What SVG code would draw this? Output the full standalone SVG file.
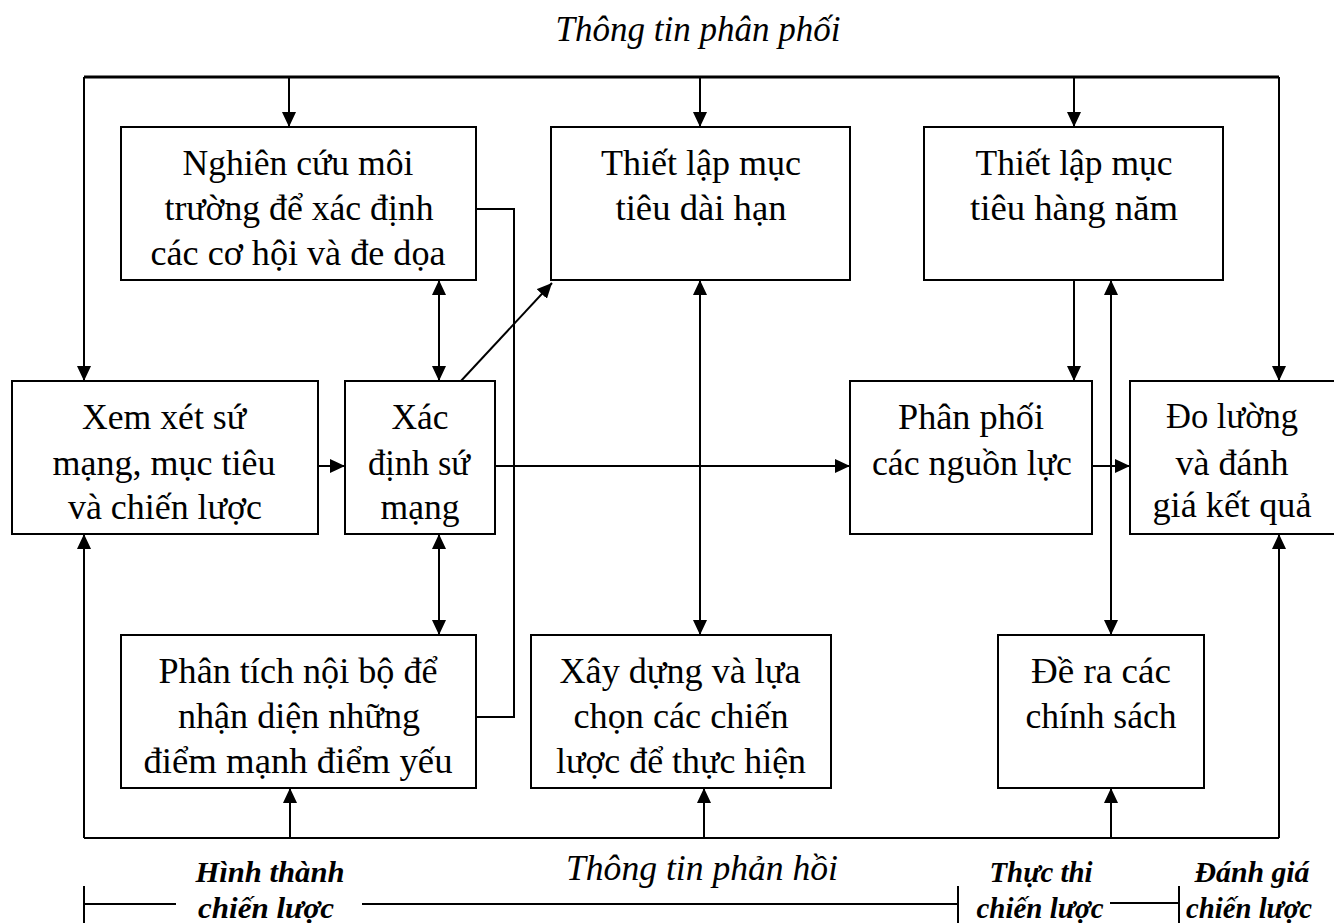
<svg xmlns="http://www.w3.org/2000/svg" width="1334" height="923" viewBox="0 0 1334 923">
<style>
.box{fill:#fff;stroke:#000;stroke-width:2}
.t{font-family:"Liberation Serif","Times New Roman",serif;font-size:35px;fill:#000;text-anchor:middle}
.it{font-family:"Liberation Serif","Times New Roman",serif;font-size:36px;font-style:italic;fill:#000;text-anchor:middle}
.bi{font-family:"Liberation Serif","Times New Roman",serif;font-size:30px;font-style:italic;font-weight:bold;fill:#000;text-anchor:middle}
.ln{fill:none;stroke:#000;stroke-width:2}
.a{marker-end:url(#ah)}
.ab{marker-start:url(#ah);marker-end:url(#ah)}
</style>
<defs>
<marker id="ah" viewBox="0 0 15 14" refX="15" refY="7" markerWidth="15" markerHeight="14" markerUnits="userSpaceOnUse" orient="auto-start-reverse">
<path d="M0,0 L15,7 L0,14 z" fill="#000"/>
</marker>
</defs>
<rect width="1334" height="923" fill="#fff"/>

<g id="connectors">
<path class="ln" style="stroke-width:3" d="M84,77 H1279"/>
<path class="ln a" d="M84,77 V381"/>
<path class="ln a" d="M289,77 V127"/>
<path class="ln a" d="M700,77 V127"/>
<path class="ln a" d="M1074,77 V127"/>
<path class="ln a" d="M1279,77 V381"/>
<path class="ln" d="M84,838 H1279"/>
<path class="ln a" d="M84,838 V534"/>
<path class="ln a" d="M290,838 V788"/>
<path class="ln a" d="M704,838 V788"/>
<path class="ln a" d="M1111,838 V788"/>
<path class="ln a" d="M1279,838 V534"/>
<path class="ln ab" d="M439,280 V381"/>
<path class="ln ab" d="M439,534 V635"/>
<path class="ln ab" d="M700,280 V635"/>
<path class="ln ab" d="M1111,280 V635"/>
<path class="ln a" d="M1074,280 V381"/>
<path class="ln a" d="M318,466 H345"/>
<path class="ln a" d="M495,466 H850"/>
<path class="ln a" d="M1092,466 H1130"/>
<path class="ln a" d="M460,382 L552,283"/>
<path class="ln" d="M476,209 H514 V717 H476"/>
</g>

<g id="n-nghiencuu">
<rect class="box" x="121" y="127" width="355" height="153"/>
<text class="t" x="298" y="175" textLength="231" lengthAdjust="spacingAndGlyphs">Nghiên cứu môi</text>
<text class="t" x="299" y="220" textLength="269" lengthAdjust="spacingAndGlyphs">trường để xác định</text>
<text class="t" x="298" y="265" textLength="295" lengthAdjust="spacingAndGlyphs">các cơ hội và đe dọa</text>
</g>
<g id="n-daihan">
<rect class="box" x="551" y="127" width="299" height="153"/>
<text class="t" x="701" y="175" textLength="200" lengthAdjust="spacingAndGlyphs">Thiết lập mục</text>
<text class="t" x="701" y="220" textLength="171" lengthAdjust="spacingAndGlyphs">tiêu dài hạn</text>
</g>
<g id="n-hangnam">
<rect class="box" x="924" y="127" width="299" height="153"/>
<text class="t" x="1074" y="175" textLength="197" lengthAdjust="spacingAndGlyphs">Thiết lập mục</text>
<text class="t" x="1074" y="220" textLength="208" lengthAdjust="spacingAndGlyphs">tiêu hàng năm</text>
</g>
<g id="n-xemxet">
<rect class="box" x="12" y="381" width="306" height="153"/>
<text class="t" x="164" y="429" textLength="164" lengthAdjust="spacingAndGlyphs">Xem xét sứ</text>
<text class="t" x="164" y="475" textLength="223" lengthAdjust="spacingAndGlyphs">mạng, mục tiêu</text>
<text class="t" x="165" y="519" textLength="194" lengthAdjust="spacingAndGlyphs">và chiến lược</text>
</g>
<g id="n-xacdinh">
<rect class="box" x="345" y="381" width="150" height="153"/>
<text class="t" x="420" y="429" textLength="57" lengthAdjust="spacingAndGlyphs">Xác</text>
<text class="t" x="419" y="475" textLength="102" lengthAdjust="spacingAndGlyphs">định sứ</text>
<text class="t" x="420" y="519" textLength="79" lengthAdjust="spacingAndGlyphs">mạng</text>
</g>
<g id="n-phanphoi">
<rect class="box" x="850" y="381" width="242" height="153"/>
<text class="t" x="971" y="429" textLength="146" lengthAdjust="spacingAndGlyphs">Phân phối</text>
<text class="t" x="972" y="475" textLength="200" lengthAdjust="spacingAndGlyphs">các nguồn lực</text>
</g>
<g id="n-doluong">
<rect class="box" x="1130" y="381" width="212" height="153"/>
<text class="t" x="1232" y="428" textLength="132" lengthAdjust="spacingAndGlyphs">Đo lường</text>
<text class="t" x="1232" y="475" textLength="113" lengthAdjust="spacingAndGlyphs">và đánh</text>
<text class="t" x="1232" y="517" textLength="159" lengthAdjust="spacingAndGlyphs">giá kết quả</text>
</g>
<g id="n-phantich">
<rect class="box" x="121" y="635" width="355" height="153"/>
<text class="t" x="298" y="683" textLength="279" lengthAdjust="spacingAndGlyphs">Phân tích nội bộ để</text>
<text class="t" x="299" y="728" textLength="242" lengthAdjust="spacingAndGlyphs">nhận diện những</text>
<text class="t" x="298" y="773" textLength="309" lengthAdjust="spacingAndGlyphs">điểm mạnh điểm yếu</text>
</g>
<g id="n-xaydung">
<rect class="box" x="531" y="635" width="300" height="153"/>
<text class="t" x="680" y="683" textLength="241" lengthAdjust="spacingAndGlyphs">Xây dựng và lựa</text>
<text class="t" x="681" y="728" textLength="215" lengthAdjust="spacingAndGlyphs">chọn các chiến</text>
<text class="t" x="681" y="773" textLength="250" lengthAdjust="spacingAndGlyphs">lược để thực hiện</text>
</g>
<g id="n-dera">
<rect class="box" x="998" y="635" width="206" height="153"/>
<text class="t" x="1101" y="683" textLength="140" lengthAdjust="spacingAndGlyphs">Đề ra các</text>
<text class="t" x="1101" y="728" textLength="151" lengthAdjust="spacingAndGlyphs">chính sách</text>
</g>

<g id="labels">
<text class="it" x="698" y="41" textLength="285" lengthAdjust="spacingAndGlyphs">Thông tin phân phối</text>
<text class="it" x="702" y="880" textLength="272" lengthAdjust="spacingAndGlyphs">Thông tin phản hồi</text>
<text class="bi" x="270" y="882" textLength="149" lengthAdjust="spacingAndGlyphs">Hình thành</text>
<text class="bi" x="266" y="918" textLength="136" lengthAdjust="spacingAndGlyphs">chiến lược</text>
<text class="bi" x="1041" y="882" textLength="103" lengthAdjust="spacingAndGlyphs">Thực thi</text>
<text class="bi" x="1040" y="918" textLength="127" lengthAdjust="spacingAndGlyphs">chiến lược</text>
<text class="bi" x="1252" y="882" textLength="115" lengthAdjust="spacingAndGlyphs">Đánh giá</text>
<text class="bi" x="1249" y="918" textLength="126" lengthAdjust="spacingAndGlyphs">chiến lược</text>
</g>

<g id="timeline">
<path class="ln" d="M84,886 V923 M958,886 V923 M1179,886 V923"/>
<path class="ln" d="M84,904 H176 M362,904 H958 M1110,903 H1179"/>
</g>
</svg>
